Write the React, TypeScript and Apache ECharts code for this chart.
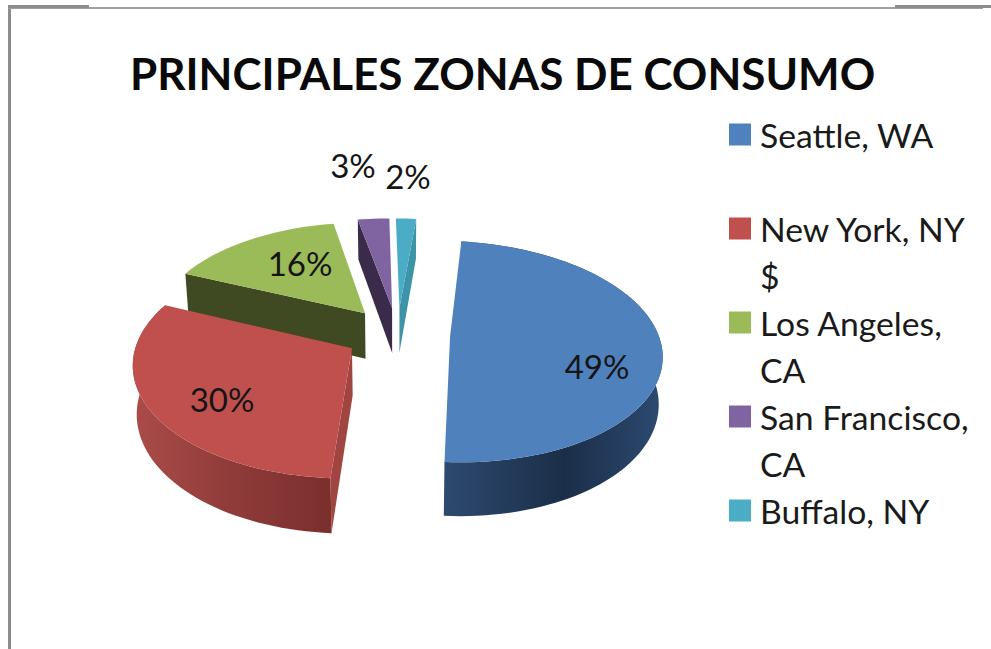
import React, { useEffect, useRef } from "react";
import * as echarts from "echarts";

const titleText = "PRINCIPALES ZONAS DE CONSUMO";
const cities = ["Seattle, WA", "New York, NY $", "Los Angeles, CA", "San Francisco, CA", "Buffalo, NY"];
const legendLines = ["Seattle, WA\n\u00a0", "New York, NY\n$", "Los Angeles,\nCA", "San Francisco,\nCA", "Buffalo, NY\n\u00a0"];
const shares = [49.4, 30.4, 15.6, 2.8, 1.8];

const topColors = ["#4f81bd", "#c0504d", "#9bbb59", "#8064a2", "#4bacc6"];
const cutColors = ["", "#a04542", "#3f4a22", "#3a2b4a", "#3d93a8"];
const wallStops = [
  ["#2d4a6e", "#1b2e49", "#2c4a70"],
  ["#7a2f2d", "#8f3b39", "#ab4c49"],
  ["#3f4a22", "#3f4a22", "#3f4a22"],
  ["#3a2b4a", "#3a2b4a", "#3a2b4a"],
  ["#3d93a8", "#3d93a8", "#3d93a8"],
];
const cutEdge = ["none", "start", "start", "start", "end"];
const labelPos = [[597, 366], [222, 399], [300, 263], [353, 165], [408, 176]];

// projection of the tilted disc (perspective) onto the page
const P = { cx: 397.5, cy: 334, a: 210.5, b: 108, e: -8, f: 6, p: 0.136, explode: 0.25, h: 46.5, k: 0.985 };

const total = shares.reduce((s, v) => s + v, 0);
const firstAngle = (shares[shares.length - 1] / total) * 180;

function project(u: number, v: number, low: boolean): number[] {
  const d = 1 - P.p * v;
  let x = P.cx + (P.a * u + P.e * v) / d;
  let y = P.cy + (P.b * v + P.f * u) / d;
  if (low) {
    x = P.cx + (x - P.cx) * P.k;
    y += P.h / d;
  }
  return [x, y];
}
const rad = (deg: number) => (deg * Math.PI) / 180;

function sliceParts(index: number, value: number) {
  let before = 0;
  for (let i = 0; i < index; i++) before += shares[i];
  const a0 = firstAngle + (before / total) * 360;
  const a1 = a0 + (value / total) * 360;
  const mid = rad((a0 + a1) / 2);
  const ou = P.explode * Math.sin(mid);
  const ov = -P.explode * Math.cos(mid);
  const rimAt = (deg: number, low: boolean) =>
    project(ou + Math.sin(rad(deg)), ov - Math.cos(rad(deg)), low);
  const apex = (low: boolean) => project(ou, ov, low);
  const steps = Math.max(4, Math.ceil((a1 - a0) / 2));
  const angles: number[] = [];
  for (let i = 0; i <= steps; i++) angles.push(a0 + ((a1 - a0) * i) / steps);
  const topRim = angles.map((d) => rimAt(d, false));
  const lowRim = angles.map((d) => rimAt(d, true));
  return { a0, a1, rimAt, apex, topRim, lowRim };
}

function renderSlice(params: any, api: any) {
  const i = params.seriesIndex;
  const value = api.value(0);
  const s = sliceParts(i, value);
  const children: any[] = [];
  const stops = wallStops[i];
  const wallFill = new echarts.graphic.LinearGradient(0, 0, 1, 0, [
    { offset: 0, color: stops[0] },
    { offset: 0.55, color: stops[1] },
    { offset: 1, color: stops[2] },
  ]);
  if (i < 2) {
    children.push({
      type: "polygon",
      shape: { points: [...s.topRim, ...[...s.lowRim].reverse()] },
      style: { fill: i === 1 ? new echarts.graphic.LinearGradient(0, 0, 1, 0, [
        { offset: 0, color: stops[2] },
        { offset: 0.5, color: stops[1] },
        { offset: 1, color: stops[0] },
      ]) : wallFill },
    });
  }
  if (cutEdge[i] !== "none") {
    const deg = cutEdge[i] === "start" ? s.a0 : s.a1;
    children.push({
      type: "polygon",
      shape: { points: [s.apex(false), s.rimAt(deg, false), s.rimAt(deg, true), s.apex(true)] },
      style: { fill: cutColors[i] },
    });
  }
  children.push({
    type: "polygon",
    shape: { points: [s.apex(false), ...s.topRim] },
    style: { fill: topColors[i] },
  });
  children.push({
    type: "text",
    x: labelPos[i][0],
    y: labelPos[i][1],
    style: {
      text: Math.round((value / total) * 100) + "%",
      fill: "#151515",
      font: "33px Lato",
      align: "center",
      verticalAlign: "middle",
    },
  });
  return { type: "group", children };
}

// square in the first text line of a two-line legend row
const legendIcon = "path://M0 0L0 0M0 12.5L22 12.5L22 34.5L0 34.5ZM0 94L0 94";

export default function App() {
  const ref = useRef<HTMLDivElement>(null);
  useEffect(() => {
    const chart = echarts.init(ref.current!, null, { renderer: "svg" });
    chart.setOption({
      animation: false,
      backgroundColor: "#ffffff",
      title: {
        text: titleText,
        left: 130,
        top: 51,
        padding: 0,
        textStyle: { fontFamily: "Lato", fontWeight: "bold", fontSize: 44, color: "#0a0a0a" },
      },
      legend: {
        data: cities,
        orient: "vertical",
        left: 729,
        top: 111,
        padding: 0,
        itemGap: 0,
        itemWidth: 22,
        itemHeight: 94,
        icon: legendIcon,
        selectedMode: false,
        formatter: (name: string) => legendLines[cities.indexOf(name)],
        textStyle: { fontFamily: "Lato", fontSize: 33.7, lineHeight: 47, color: "#1a1a1a", padding: [0, 0, 0, 4] },
      },
      graphic: [
        { type: "rect", shape: { x: 8, y: 7, width: 3, height: 642 }, style: { fill: "#8c8c8c" } },
        { type: "rect", shape: { x: 8, y: 7, width: 975, height: 2 }, style: { fill: "#a0a0a0" } },
        { type: "rect", shape: { x: 8, y: 5, width: 81, height: 3 }, style: { fill: "#8c8c8c" } },
        { type: "rect", shape: { x: 895, y: 5, width: 96, height: 3 }, style: { fill: "#8c8c8c" } },
      ],
      series: cities.map((name, i) => ({
        type: "custom",
        name,
        coordinateSystem: "none",
        itemStyle: { color: topColors[i] },
        data: [[shares[i]]],
        renderItem: renderSlice,
        silent: true,
        z: i === 1 ? 5 : 2,
      })),
    });
    return () => chart.dispose();
  }, []);
  return <div ref={ref} style={{ position: "fixed", left: 0, top: 0, width: 991, height: 649 }} />;
}
